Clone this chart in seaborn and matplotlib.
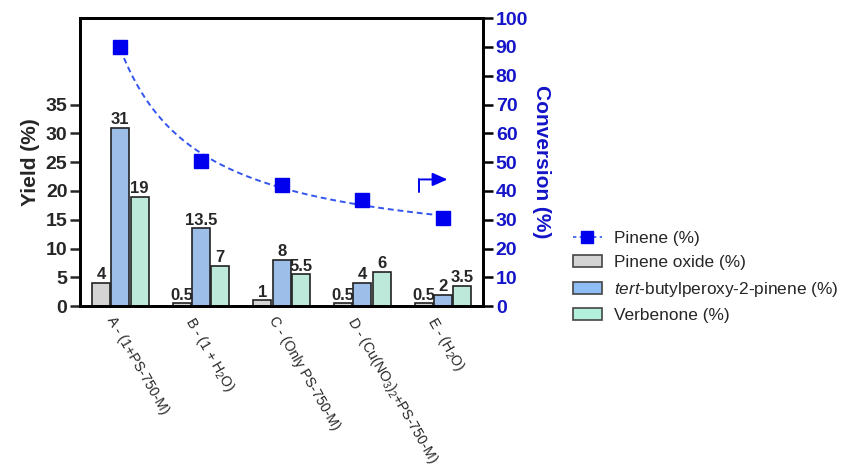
import numpy as np
import pandas as pd
import matplotlib.pyplot as plt
import matplotlib.transforms as mtransforms
import seaborn as sns
from matplotlib.lines import Line2D
from matplotlib.patches import Patch

# data
conditions = ['A - (1+PS-750-M)', 'B - (1 + H$_2$O)', 'C - (Only PS-750-M)',
              'D - (Cu(NO$_3$)$_2$+PS-750-M)', 'E - (H$_2$O)']
pinene_oxide = [4, 0.5, 1, 0.5, 0.5]
tbp_pinene = [31, 13.5, 8, 4, 2]
verbenone = [19, 7, 5.5, 6, 3.5]
conversion = [90, 50.5, 42, 37, 30.5]

series_names = ['Pinene oxide (%)', '$\\it{tert}$-butylperoxy-2-pinene (%)', 'Verbenone (%)']
bar_colors = ['#d4d4d4', '#8fbdf6', '#b4f1dc']
conv_color = '#1414c8'

sns.set_style('white')
plt.rcParams['font.family'] = ['Liberation Sans', 'DejaVu Sans']
plt.rcParams['mathtext.fontset'] = 'custom'
plt.rcParams['mathtext.rm'] = 'Liberation Sans'
plt.rcParams['mathtext.it'] = 'Liberation Sans:italic'

df = pd.DataFrame({
    'condition': conditions * 3,
    'series': [s for s in series_names for _ in conditions],
    'value': pinene_oxide + tbp_pinene + verbenone,
})

fig = plt.figure(figsize=(8.42, 4.66), dpi=100)
ax = fig.add_axes([0.095, 0.343, 0.479, 0.618])

sns.barplot(data=df, x='condition', y='value', hue='series', order=conditions,
            hue_order=series_names, palette=bar_colors, width=0.72, gap=0.06,
            edgecolor='#222222', linewidth=1.2, legend=False, ax=ax)

for cont in ax.containers:
    ax.bar_label(cont, labels=[f'{v:g}' for v in cont.datavalues], fontsize=12,
                 fontweight='bold', padding=0.5)

ax.set_xlim(-0.5, 4.5)
ax.set_ylim(0, 50)
ax.set_yticks(range(0, 40, 5))
ax.tick_params(axis='y', labelsize=14, width=1.8, length=7, left=True, pad=2)
for lab in ax.get_yticklabels():
    lab.set_fontweight('bold')
ax.set_ylabel('Yield (%)', fontsize=15, fontweight='bold', labelpad=4)
ax.set_xlabel('')
ax.tick_params(axis='x', length=0, pad=6)
ax.set_xticks(range(len(conditions)))
ax.set_xticklabels(conditions, rotation=-60, ha='left', va='top',
                   rotation_mode='anchor', fontsize=10.2)
shift = mtransforms.ScaledTranslation(-4 / 100, 0, fig.dpi_scale_trans)
for lab in ax.get_xticklabels():
    lab.set_transform(lab.get_transform() + shift)
for sp in ax.spines.values():
    sp.set_linewidth(2)
    sp.set_color('black')

# conversion on the right axis
ax2 = ax.twinx()
xi = np.arange(len(conversion))
conv = np.array(conversion, dtype=float)
# hyperbolic trend fitted to the conversion points
k, c0 = np.polyfit(1.0 / (xi + 1), conv, 1)
xs = np.linspace(0, 4, 200)
ax2.plot(xs, k / (xs + 1) + c0, color='#3355ee',
         linestyle=(0, (3, 2)), linewidth=1.4)
ax2.plot(xi, conv, linestyle='none', marker='s', markersize=9.5, color='#0000ee')

ax2.set_ylim(0, 100)
ax2.set_yticks(range(0, 110, 10))
ax2.tick_params(axis='y', labelsize=14, width=1.8, length=7, right=True, pad=2,
                labelcolor=conv_color, color='black')
for lab in ax2.get_yticklabels():
    lab.set_fontweight('bold')
ax2.set_ylabel('Conversion (%)', fontsize=15, fontweight='bold', color=conv_color,
               rotation=270, va='center')
ax2.yaxis.set_label_coords(1.145, 0.5)
for sp in ax2.spines.values():
    sp.set_linewidth(2)
    sp.set_color('black')

# axis indicator arrow
ax2.plot([3.7, 3.7], [39.5, 44], color='#0000ee', linewidth=1.4)
ax2.annotate('', xy=(4.09, 44), xytext=(3.69, 44),
             arrowprops=dict(arrowstyle='-|>,head_length=0.9,head_width=0.4',
                             color='#0000ee', lw=1.4))

handles = [Line2D([0], [0], color='#3355ee', linestyle=(0, (2, 2)), linewidth=1.2,
                  marker='s', markersize=9, markerfacecolor='#0000ee',
                  markeredgecolor='#0000ee')]
handles += [Patch(facecolor=c, edgecolor='#444444', linewidth=1.2) for c in bar_colors]
labels = ['Pinene (%)'] + series_names
fig.legend(handles, labels, loc='upper left', bbox_to_anchor=(0.672, 0.52),
           frameon=False, fontsize=12.4, handlelength=1.7, handleheight=0.7,
           labelspacing=0.55, handletextpad=0.7, borderaxespad=0)

fig.savefig('out.png', dpi=100)
